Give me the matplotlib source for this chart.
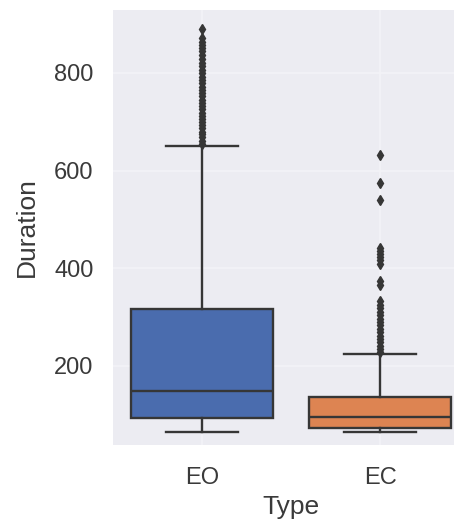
import matplotlib
matplotlib.use("Agg")
import matplotlib.pyplot as plt

categories = ["EO", "EC"]
q1 = [93, 72]
median = [149, 96]
q3 = [316, 137]
whisker_low = [65, 64]
whisker_high = [650, 225]
fliers_eo = [655, 661, 668, 674, 680, 687, 693, 699, 706, 712, 719, 726, 732, 739,
             745, 752, 759, 765, 772, 779, 786, 792, 799, 807, 814, 821, 829, 837,
             844, 851, 857, 864, 871, 890]
fliers_ec = [633, 574, 540, 442, 436, 429, 424, 417, 408, 373, 366, 332, 325, 318,
             311, 304, 297, 290, 283, 276, 269, 262, 255, 248, 241, 234, 229]
yticks = [200, 400, 600, 800]
colors = ["#4a6cae", "#dd8452"]

plt.rcParams['font.family'] = ['Liberation Sans', 'DejaVu Sans']
fig = plt.figure(figsize=(4.54, 5.25), dpi=100)
ax = fig.add_axes([113/454, 1 - 445/525, (469 - 113)/454, (445 - 10)/525])
ax.set_facecolor("#ececf2")
ax.set_axisbelow(True)
ax.grid(True, color="#f3f3f7", linewidth=1.2)
for s in ax.spines.values():
    s.set_visible(False)

stats = []
for i, name in enumerate(categories):
    stats.append(dict(label=name, q1=q1[i], med=median[i], q3=q3[i],
                      whislo=whisker_low[i], whishi=whisker_high[i],
                      fliers=[fliers_eo, fliers_ec][i]))

lc = "#363636"
bp = ax.bxp(stats, positions=range(len(categories)), widths=0.8, patch_artist=True,
            boxprops=dict(edgecolor=lc, linewidth=1.7),
            medianprops=dict(color=lc, linewidth=1.7),
            whiskerprops=dict(color=lc, linewidth=1.7),
            capprops=dict(color=lc, linewidth=1.7),
            flierprops=dict(marker='d', markerfacecolor=lc, markeredgecolor=lc,
                            markersize=5.5, linestyle='none'))
for patch, c in zip(bp['boxes'], colors):
    patch.set_facecolor(c)

ax.set_xlim(-0.5, 1.5)
ax.set_ylim(38, 929)
ax.set_yticks(yticks)
ax.set_xticks(range(len(categories)))
ax.set_xticklabels(categories)
ax.tick_params(axis='both', length=0, labelsize=17, labelcolor="#3a3a3a")
ax.tick_params(axis='y', pad=14)
ax.tick_params(axis='x', pad=16)
ax.set_xlabel("Type", fontsize=19, color="#3a3a3a", labelpad=4)
ax.set_ylabel("Duration", fontsize=19, color="#3a3a3a", labelpad=11)

fig.savefig("out.png", dpi=100)
